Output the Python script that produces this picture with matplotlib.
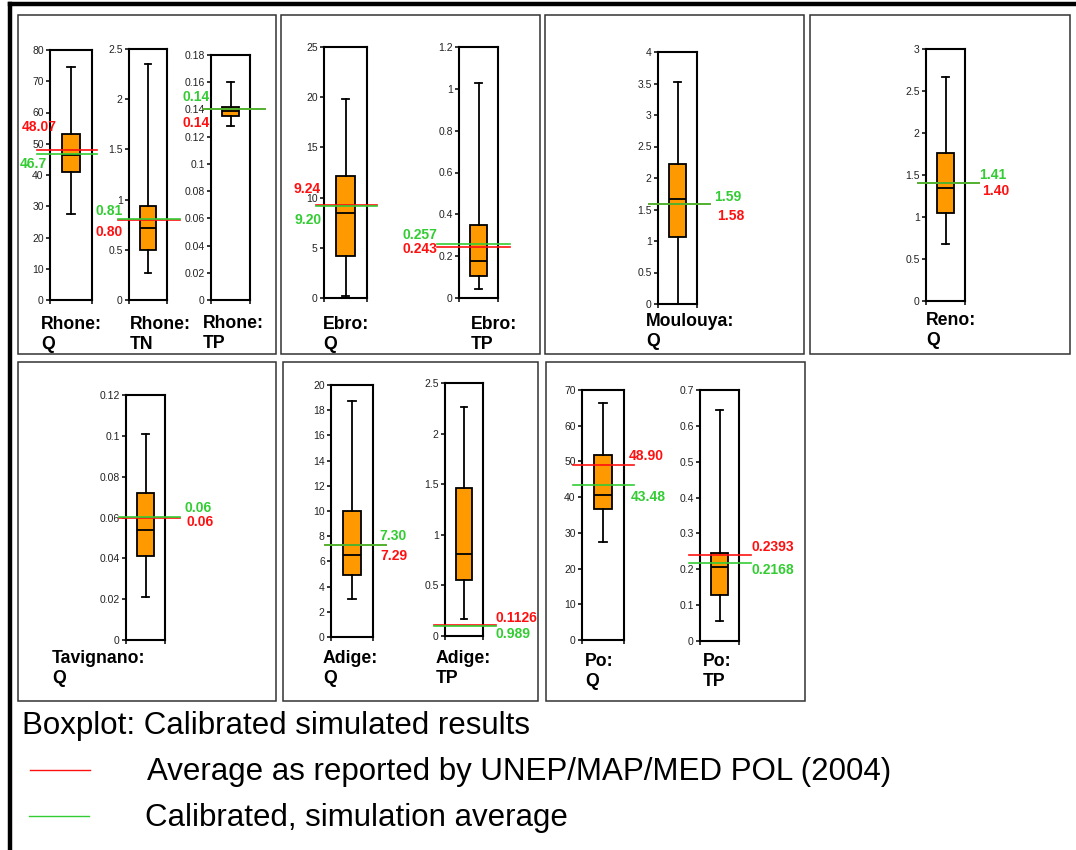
import matplotlib
matplotlib.use("Agg")
import matplotlib.pyplot as plt
from matplotlib.lines import Line2D
from matplotlib.patches import Rectangle
from matplotlib.transforms import blended_transform_factory
import numpy as np

plt.rcParams['font.family'] = ['Liberation Sans', 'DejaVu Sans']

W, H = 1076, 850

# ---------------- data ----------------
var_labels = ["Rhone:\nQ", "Rhone:\nTN", "Rhone:\nTP", "Ebro:\nQ", "Ebro:\nTP",
              "Moulouya:\nQ", "Reno:\nQ", "Tavignano:\nQ", "Adige:\nQ", "Adige:\nTP",
              "Po:\nQ", "Po:\nTP"]
whisker_low = [27.5, 0.27, 0.128, 0.2, 0.045, 0.0, 0.68, 0.021, 3.0, 0.17, 27.5, 0.055]
q1 = [41.0, 0.50, 0.1355, 4.2, 0.105, 1.06, 1.05, 0.041, 4.9, 0.55, 36.8, 0.127]
median = [46.5, 0.72, 0.139, 8.5, 0.175, 1.66, 1.34, 0.054, 6.5, 0.81, 40.7, 0.205]
q3 = [53.0, 0.94, 0.1415, 12.2, 0.35, 2.23, 1.76, 0.072, 10.0, 1.46, 51.7, 0.245]
whisker_high = [74.5, 2.35, 0.160, 19.8, 1.03, 3.53, 2.67, 0.101, 18.7, 2.26, 66.5, 0.643]
ref_avg = [48.07, 0.80, 0.14, 9.24, 0.243, 1.58, 1.40, 0.06, 7.29, 0.1126, 48.90, 0.2393]
sim_avg = [46.7, 0.81, 0.1405, 9.20, 0.257, 1.59, 1.41, 0.0602, 7.30, 0.0989, 43.48, 0.2168]
ref_labels = ["48.07", "0.80", "0.14", "9.24", "0.243", "1.58", "1.40", "0.06", "7.29",
              "0.1126", "48.90", "0.2393"]
sim_labels = ["46.7", "0.81", "0.14", "9.20", "0.257", "1.59", "1.41", "0.06", "7.30",
              "0.989", "43.48", "0.2168"]
y_max = [80, 2.5, 0.18, 25, 1.2, 4, 3, 0.12, 20, 2.5, 70, 0.7]
y_step = [10, 0.5, 0.02, 5, 0.2, 0.5, 0.5, 0.02, 2, 0.5, 10, 0.1]

legend_title = "Boxplot: Calibrated simulated results"
legend_ref = "Average as reported by UNEP/MAP/MED POL (2004)"
legend_sim = "Calibrated, simulation average"

# ---------------- layout (pixels) ----------------
panel_boxes = [(18, 15, 276, 354), (281, 15, 540, 354), (545, 15, 804, 354),
               (810, 15, 1070, 354), (18, 362, 276, 701), (283, 362, 538, 701),
               (546, 362, 805, 701)]
axes_px = [(50, 50, 92, 300), (129, 49, 167, 300), (211, 55, 250, 300),
           (324, 47, 367, 298), (459, 47, 498, 298), (658, 52, 697, 304),
           (926, 49, 965, 301), (126, 395, 165, 640), (331, 385, 373, 637),
           (445, 383, 483, 636), (582, 390, 624, 640), (700, 390, 739, 641)]
line_ext = [(-0.31, 1.12), (-0.29, 1.34), (-0.21, 1.38), (-0.19, 1.23), (-0.56, 1.31),
            (-0.23, 1.33), (-0.20, 1.36), (-0.18, 1.38), (-0.14, 1.31), (-0.29, 1.34),
            (-0.21, 1.24), (-0.28, 1.31)]
# (x_ref, x_sim, ha, dy_ref, dy_sim)
label_pos = [(0.17, -0.07, 'right', 23, -10), (-0.16, -0.16, 'right', -12, 8),
             (-0.03, -0.03, 'right', -14, 12), (-0.09, -0.05, 'right', 16, -14),
             (-0.56, -0.56, 'right', -2, 9), (1.51, 1.44, 'left', -12, 7),
             (1.44, 1.36, 'left', -8, 8), (1.54, 1.51, 'left', -5, 9),
             (1.17, 1.14, 'left', -11, 9), (1.34, 1.34, 'left', 7, -8),
             (1.12, 1.17, 'left', 9, -12), (1.33, 1.33, 'left', 8, -7)]
name_pos = [(41, 316), (130, 316), (203, 315), (323, 316), (471, 316), (646, 313),
            (926, 312), (52, 650), (323, 650), (436, 650), (585, 653), (703, 653)]

RED = '#FF1010'
GREEN = '#33CC33'
ORANGE = '#FF9900'


def frect(x0, y0, x1, y1):
    return [x0 / W, 1 - y1 / H, (x1 - x0) / W, (y1 - y0) / H]


def fmt(v):
    return f"{round(v, 6):g}"


fig = plt.figure(figsize=(W / 100, H / 100), dpi=100)

# outer frame (thick top and left)
fig.add_artist(Line2D([10 / W, 1], [1 - 4 / H, 1 - 4 / H], transform=fig.transFigure,
                      color='black', lw=3.2))
fig.add_artist(Line2D([10 / W, 10 / W], [0, 1 - 4 / H], transform=fig.transFigure,
                      color='black', lw=3.2))

for (x0, y0, x1, y1) in panel_boxes:
    fig.add_artist(Rectangle((x0 / W, 1 - y1 / H), (x1 - x0) / W, (y1 - y0) / H,
                             transform=fig.transFigure, fill=False, ec='#333333', lw=1.1))

for i in range(len(var_labels)):
    ax = fig.add_axes(frect(*axes_px[i]))
    ax.set_xlim(0, 1)
    ax.set_ylim(0, y_max[i])
    stats = [dict(whislo=whisker_low[i], q1=q1[i], med=median[i], q3=q3[i],
                  whishi=whisker_high[i], fliers=[])]
    ax.bxp(stats, positions=[0.5], widths=0.42, patch_artist=True, manage_ticks=False,
           capwidths=0.17,
           boxprops=dict(facecolor=ORANGE, edgecolor='black', lw=1.3),
           medianprops=dict(color='black', lw=1.3),
           whiskerprops=dict(color='black', lw=1.3),
           capprops=dict(color='black', lw=1.3))
    ticks = np.arange(0, y_max[i] + y_step[i] / 2, y_step[i])
    ax.set_yticks(ticks)
    ax.set_yticklabels([fmt(t) for t in ticks])
    ax.set_xticks([0, 1])
    ax.set_xticklabels(['', ''])
    ax.tick_params(axis='both', direction='out', length=3, width=1.1, labelsize=7.5,
                   pad=1.5, colors='black', labelcolor='#222222')
    for sp in ax.spines.values():
        sp.set_linewidth(1.5)
        sp.set_color('black')

    tr = blended_transform_factory(ax.transAxes, ax.transData)
    xa, xb = line_ext[i]
    ax.plot([xa, xb], [ref_avg[i], ref_avg[i]], color=RED, lw=1.2, transform=tr,
            clip_on=False, zorder=5)
    ax.plot([xa, xb], [sim_avg[i], sim_avg[i]], color=GREEN, lw=1.2, transform=tr,
            clip_on=False, zorder=5)

    xr, xs, ha, dyr, dys = label_pos[i]
    ax.annotate(ref_labels[i], xy=(xr, ref_avg[i]), xycoords=tr, xytext=(0, dyr),
                textcoords='offset pixels', ha=ha, va='center', color=RED,
                fontsize=10, fontweight='bold', annotation_clip=False, zorder=6)
    ax.annotate(sim_labels[i], xy=(xs, sim_avg[i]), xycoords=tr, xytext=(0, dys),
                textcoords='offset pixels', ha=ha, va='center', color=GREEN,
                fontsize=10, fontweight='bold', annotation_clip=False, zorder=6)

    nx, ny = name_pos[i]
    fig.text(nx / W, 1 - ny / H, var_labels[i], ha='left', va='top', fontsize=12.7,
             fontweight='bold', linespacing=1.22, color='black')

# legend
fig.text(22 / W, 1 - 726 / H, legend_title, ha='left', va='center', fontsize=22.5)
fig.add_artist(Line2D([30 / W, 90 / W], [1 - 770 / H, 1 - 770 / H],
                      transform=fig.transFigure, color=RED, lw=1.0))
fig.text(147 / W, 1 - 772 / H, legend_ref, ha='left', va='center', fontsize=22.5)
fig.add_artist(Line2D([29 / W, 89 / W], [1 - 816 / H, 1 - 816 / H],
                      transform=fig.transFigure, color=GREEN, lw=1.0))
fig.text(145 / W, 1 - 818 / H, legend_sim, ha='left', va='center', fontsize=22.5)

fig.savefig("out.png", dpi=100)
